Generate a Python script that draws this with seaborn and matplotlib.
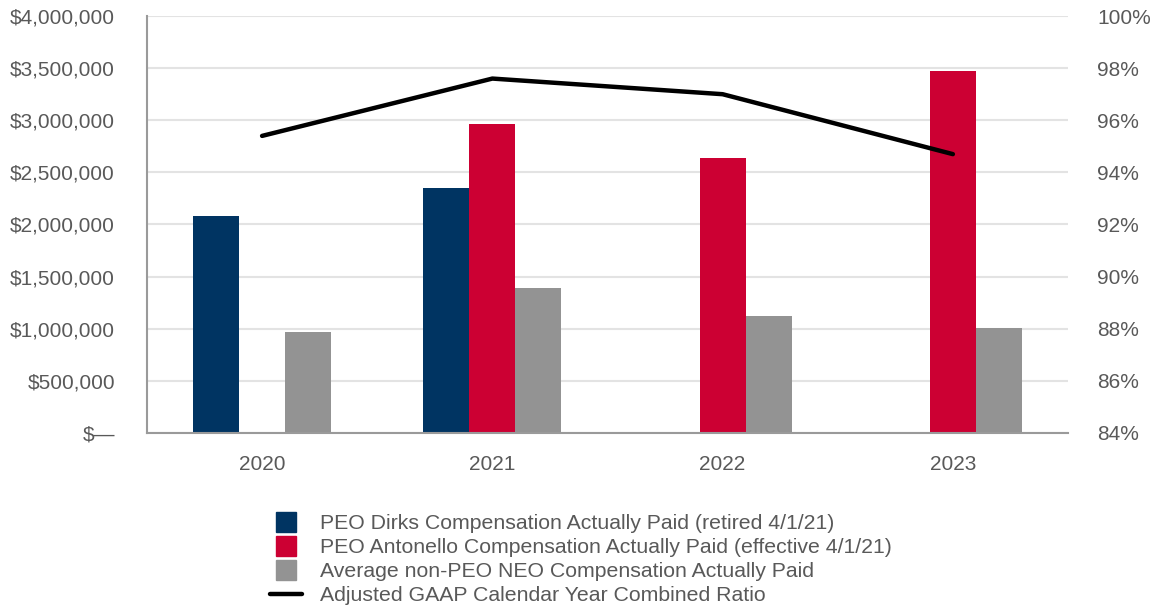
import numpy as np
import pandas as pd
import matplotlib
matplotlib.use("Agg")
import matplotlib.pyplot as plt
from matplotlib.lines import Line2D
import seaborn as sns

# Data
years = ["2020", "2021", "2022", "2023"]
dirks_cap = [2080000, 2350000, np.nan, np.nan]
antonello_cap = [np.nan, 2960000, 2635000, 3475000]
avg_neo_cap = [966000, 1388000, 1120000, 1005000]
combined_ratio = [95.4, 97.6, 97.0, 94.7]

series_names = [
    "PEO Dirks Compensation Actually Paid (retired 4/1/21)",
    "PEO Antonello Compensation Actually Paid (effective 4/1/21)",
    "Average non-PEO NEO Compensation Actually Paid",
]
line_name = "Adjusted GAAP Calendar Year Combined Ratio"
colors = ["#003462", "#CC0033", "#939393"]

left_ticks = [0, 500000, 1000000, 1500000, 2000000, 2500000, 3000000, 3500000, 4000000]
right_ticks = [84, 86, 88, 90, 92, 94, 96, 98, 100]

df = pd.DataFrame({
    "year": years * 3,
    "series": [series_names[0]] * 4 + [series_names[1]] * 4 + [series_names[2]] * 4,
    "value": dirks_cap + antonello_cap + avg_neo_cap,
})

sns.set_theme(style="white")
plt.rcParams["font.family"] = ["Liberation Sans", "DejaVu Sans"]
text_color = "#595959"

fig = plt.figure(figsize=(11.58, 6.07), dpi=100)
ax = fig.add_axes([0.1269, 0.2867, 0.7954, 0.6869])

sns.barplot(data=df, x="year", y="value", hue="series", hue_order=series_names,
            order=years, palette=colors, width=0.6, errorbar=None,
            saturation=1, ax=ax, legend=False, zorder=2,
            edgecolor="none", linewidth=0)

ax.set_ylim(0, 4000000)
ax.set_yticks(left_ticks)
ax.set_yticklabels(["$—" if v == 0 else f"${v:,.0f}" for v in left_ticks])
ax.grid(axis="y", color="#e3e3e3", linewidth=1.5, zorder=0)
ax.set_axisbelow(True)
ax.set_xlabel("")
ax.set_ylabel("")
for side in ["top", "right"]:
    ax.spines[side].set_visible(False)
for side in ["left", "bottom"]:
    ax.spines[side].set_color("#9a9a9a")
    ax.spines[side].set_linewidth(1.5)
ax.tick_params(axis="y", length=0, pad=23, labelsize=15, labelcolor=text_color)
ax.tick_params(axis="x", length=0, pad=16, labelsize=15, labelcolor=text_color)
ax.set_xlim(-0.5, 3.5)

ax2 = ax.twinx()
xpos = ax.get_xticks()
sns.lineplot(x=xpos, y=combined_ratio, ax=ax2, color="black", linewidth=3.2, zorder=3)
ax2.set_ylim(84, 100)
ax2.set_yticks(right_ticks)
ax2.set_yticklabels([f"{v}%" for v in right_ticks])
ax2.tick_params(axis="y", length=0, pad=21, labelsize=15, labelcolor=text_color)
for side in ["top", "right", "left", "bottom"]:
    ax2.spines[side].set_visible(False)
ax2.set_ylabel("")
ax2.grid(False)

handles = [Line2D([], [], linestyle="none", marker="s", markersize=14,
                  markerfacecolor=c, markeredgecolor=c) for c in colors]
handles.append(Line2D([], [], color="black", linewidth=3.2))
labels = series_names + [line_name]
leg = fig.legend(handles, labels, loc="upper left", bbox_to_anchor=(0.2332, 0.153),
                 frameon=False, fontsize=15.3, handlelength=1.5, handletextpad=0.85,
                 labelspacing=0.24, borderpad=0, borderaxespad=0)
for t in leg.get_texts():
    t.set_color(text_color)

fig.savefig("out.png", dpi=100)
